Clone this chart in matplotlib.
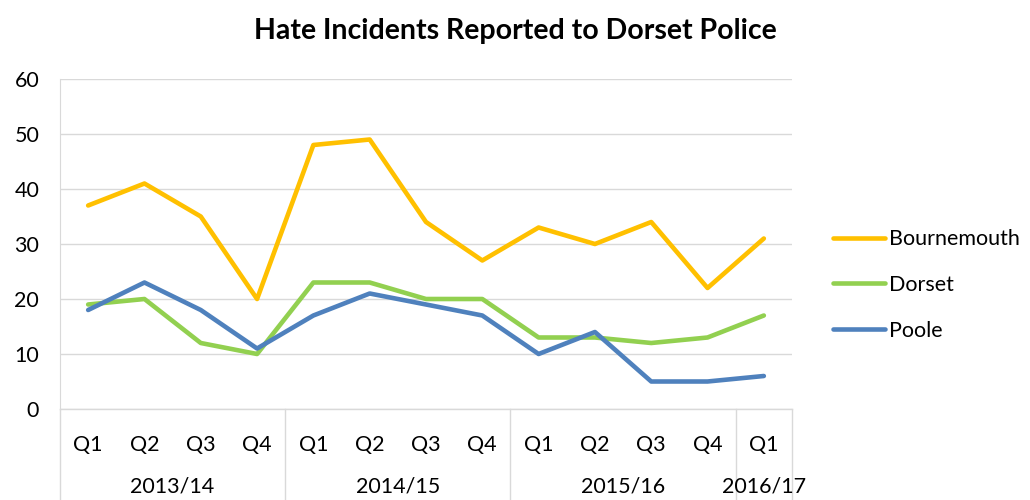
# hate incidents reported to Dorset Police, by quarter

import matplotlib.pyplot as plt

quarters = ["Q1", "Q2", "Q3", "Q4", "Q1", "Q2", "Q3", "Q4", "Q1", "Q2", "Q3", "Q4", "Q1"]
years = ["2013/14", "2014/15", "2015/16", "2016/17"]
year_sizes = [4, 4, 4, 1]

bournemouth = [37, 41, 35, 20, 48, 49, 34, 27, 33, 30, 34, 22, 31]
dorset = [19, 20, 12, 10, 23, 23, 20, 20, 13, 13, 12, 13, 17]
poole = [18, 23, 18, 11, 17, 21, 19, 17, 10, 14, 5, 5, 6]

plt.rcParams['font.family'] = ['Lato', 'DejaVu Sans']
fs = 15.5

fig = plt.figure(figsize=(10.3, 5), dpi=100)
ax = fig.add_axes([60 / 1030, 91 / 500, 732 / 1030, 330 / 500])

x = list(range(len(quarters)))
ax.plot(x, bournemouth, color="#FFC000", lw=3.3, label="Bournemouth", solid_capstyle="round")
ax.plot(x, dorset, color="#92D050", lw=3.3, label="Dorset", solid_capstyle="round")
ax.plot(x, poole, color="#4F81BD", lw=3.3, label="Poole", solid_capstyle="round")

ax.set_xlim(-0.5, len(quarters) - 0.5)
ax.set_ylim(0, 60)
ax.set_yticks(range(0, 61, 10))
ax.grid(axis="y", color="#D9D9D9", lw=1)
ax.set_axisbelow(True)
for s in ["top", "right", "bottom"]:
    ax.spines[s].set_visible(False)
ax.spines["left"].set_color("#D9D9D9")
ax.tick_params(axis="y", length=0, pad=15, labelsize=fs)
ax.tick_params(axis="x", length=0, pad=19, labelsize=fs)
ax.set_xticks(x)
ax.set_xticklabels(quarters)

# category separators and year labels below the axis
trans = ax.get_xaxis_transform()
ax.plot([-0.5, len(quarters) - 0.5], [0, 0], color="#D9D9D9", lw=1, transform=trans, clip_on=False)
start = -0.5
bounds = [start]
for name, n in zip(years, year_sizes):
    mid = start + n / 2
    ax.text(mid, -0.236, name, transform=trans, ha="center", va="center", fontsize=fs)
    start += n
    bounds.append(start)
for b in bounds:
    ax.plot([b, b], [0, -0.3], color="#D9D9D9", lw=1, transform=trans, clip_on=False)

ax.legend(loc="center left", bbox_to_anchor=(814 / 1030, 0.43), bbox_transform=fig.transFigure,
          frameon=False, fontsize=fs, handlelength=2.4, handletextpad=0.2, labelspacing=1.2)

fig.text(0.5, 0.938, "Hate Incidents Reported to Dorset Police", ha="center", va="center",
         fontsize=20.5, fontweight="bold")

fig.savefig("out.png", dpi=100)
